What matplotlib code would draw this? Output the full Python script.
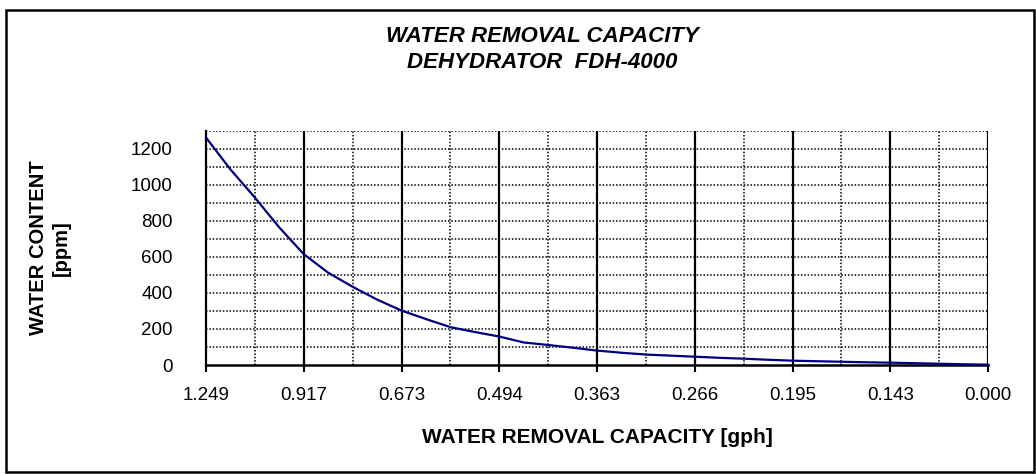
import matplotlib
matplotlib.use("Agg")
import matplotlib.pyplot as plt
from matplotlib.patches import Rectangle

plt.rcParams['font.family'] = ['Liberation Sans', 'DejaVu Sans']

# ---- data ----
tick_labels = ["1.249", "0.917", "0.673", "0.494", "0.363", "0.266", "0.195", "0.143", "0.000"]
water_content_ppm = [1262, 1085, 929, 763, 615, 512, 434, 363, 302, 255, 210, 183, 158,
                     125, 111, 96, 80, 68, 58, 52, 46, 40, 35, 29, 24, 21, 18, 15, 13,
                     10, 7, 4, 2]
y_ticks = [0, 200, 400, 600, 800, 1000, 1200]
title_lines = ["WATER REMOVAL CAPACITY", "DEHYDRATOR  FDH-4000"]
x_title = "WATER REMOVAL CAPACITY [gph]"
y_title = "WATER CONTENT\n[ppm]"

n = len(water_content_ppm)
per_label = (n - 1) // (len(tick_labels) - 1)
x = list(range(n))

W, H = 1036, 474
fig = plt.figure(figsize=(W / 100, H / 100), dpi=100)
fig.patch.set_facecolor("white")

left, right, bottom, top = 206, 988, 365, 130.7
ax = fig.add_axes([left / W, 1 - bottom / H, (right - left) / W, (bottom - top) / H])

ax.set_xlim(0, n - 1)
ax.set_ylim(0, 1300)

dot = (0, (1, 1.2))
for v in range(100, 1301, 100):
    ax.axhline(v, color="black", lw=1.1, linestyle=dot, zorder=1)
major_pos = list(range(0, n, per_label))
for p in major_pos[1:]:
    ax.axvline(p, color="black", lw=1.6, zorder=1.5)
for p in major_pos[:-1]:
    ax.axvline(p + per_label / 2, color="black", lw=1.1, linestyle=dot, zorder=1)

ax.plot(x, water_content_ppm, color="#000080", lw=1.6, zorder=3, clip_on=False)

ax.set_xticks(major_pos)
ax.set_xticklabels(tick_labels)
ax.set_yticks(y_ticks)
ax.tick_params(axis="x", length=5, width=1.5, direction="out", pad=11, labelsize=13.5)
ax.tick_params(axis="y", length=0, pad=24, labelsize=13.5)

for s in ["top", "right"]:
    ax.spines[s].set_visible(False)
ax.spines["left"].set_linewidth(1.6)
ax.spines["bottom"].set_linewidth(1.8)

ax.set_xlabel(x_title, fontsize=15, fontweight="bold", labelpad=17)

fig.text(50 / W, 1 - 248 / H, y_title, rotation=90, ha="center", va="center",
         fontsize=14.5, fontweight="bold", multialignment="center", linespacing=1.25)

fig.text(542 / W, 1 - 36 / H, title_lines[0], ha="center", va="center",
         fontsize=16, fontweight="bold", fontstyle="italic")
fig.text(542 / W, 1 - 63 / H, title_lines[1], ha="center", va="center",
         fontsize=16, fontweight="bold", fontstyle="italic")

fig.patches.append(Rectangle((6 / W, 1 - 472 / H), (1034 - 6) / W, (472 - 10) / H,
                             transform=fig.transFigure, fill=False, edgecolor="black",
                             linewidth=1.8))

fig.savefig("out.png", dpi=100, facecolor="white")
